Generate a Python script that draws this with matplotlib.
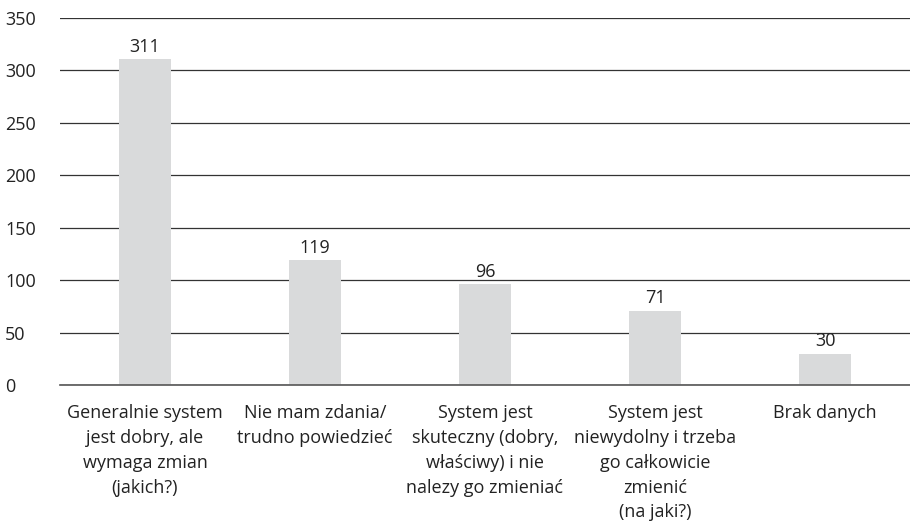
import matplotlib
matplotlib.use("Agg")
import matplotlib.pyplot as plt

categories = [
    "Generalnie system\njest dobry, ale\nwymaga zmian\n(jakich?)",
    "Nie mam zdania/\ntrudno powiedzieć",
    "System jest\nskuteczny (dobry,\nwłaściwy) i nie\nnalezy go zmieniać",
    "System jest\nniewydolny i trzeba\ngo całkowicie\nzmienić\n(na jaki?)",
    "Brak danych",
]
values = [311, 119, 96, 71, 30]
yticks = [0, 50, 100, 150, 200, 250, 300, 350]

plt.rcParams['font.family'] = ['Open Sans', 'DejaVu Sans']

fig = plt.figure(figsize=(9.1, 5.25), dpi=100)
ax = fig.add_axes([60/910, 140/525, 850/910, (385-18)/525])

x = list(range(len(categories)))
ax.bar(x, values, width=0.31, color="#d9dadb", zorder=2)
for xi, v in zip(x, values):
    ax.text(xi, v + 3, str(v), ha="center", va="bottom", fontsize=13, color="#222222")

ax.set_xlim(-0.5, len(categories) - 0.5)
ax.set_ylim(0, 350)
ax.set_yticks(yticks)
ax.set_yticklabels([str(t) for t in yticks], fontsize=13, color="#222222")
ax.set_xticks(x)
ax.set_xticklabels(categories, fontsize=13, color="#222222", linespacing=1.48, va="top")
ax.tick_params(axis="both", length=0)
ax.tick_params(axis="x", pad=14)
ax.tick_params(axis="y", pad=39.5)
for lbl in ax.get_yticklabels():
    lbl.set_horizontalalignment("left")

ax.yaxis.grid(True, color="#333333", linewidth=0.9, zorder=1)
ax.set_axisbelow(True)
for s in ["top", "right", "left"]:
    ax.spines[s].set_visible(False)
ax.spines["bottom"].set_color("#555555")
ax.spines["bottom"].set_linewidth(1.2)

fig.savefig("out.png", dpi=100)
